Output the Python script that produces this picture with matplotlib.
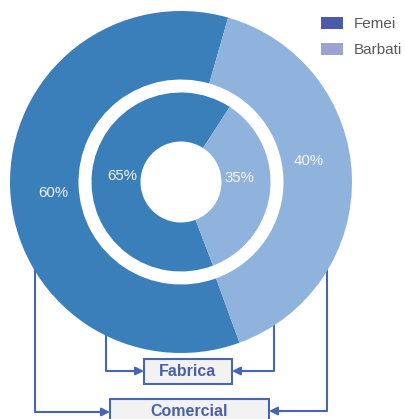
import matplotlib.pyplot as plt
from matplotlib.patches import Rectangle, Patch

plt.rcParams["font.family"] = ["Liberation Sans", "DejaVu Sans"]

# data
groups = ["Femei", "Barbati"]
comercial_pct = [60, 40]   # outer ring
fabrica_pct = [65, 35]     # inner ring
box_labels = ["Fabrica", "Comercial"]

DARK = "#3a7fba"
LIGHT = "#8fb3dc"
LEGEND_COLORS = ["#4b5ba8", "#9aa3d2"]
LINE = "#4766ae"
TEXT_BLUE = "#4a60a8"

W, H = 406, 419
fig = plt.figure(figsize=(W / 100, H / 100), dpi=100)
ax = fig.add_axes([0, 0, 1, 1])


def fy(y):
    # image pixel row -> data y
    return H - y


cx, cy = 181, fy(182)

_, _, outer_txt = ax.pie(
    comercial_pct, colors=[DARK, LIGHT], startangle=74, radius=171, center=(cx, cy),
    wedgeprops=dict(width=68.5, linewidth=0), autopct=lambda p: f"{p:.0f}%",
    pctdistance=0.75, textprops=dict(color="#f4f4f4", fontsize=10.8), frame=True,
)
_, _, inner_txt = ax.pie(
    fabrica_pct, colors=[DARK, LIGHT], startangle=57, radius=89.5, center=(cx, cy),
    wedgeprops=dict(width=49, linewidth=0), autopct=lambda p: f"{p:.0f}%",
    pctdistance=0.66, textprops=dict(color="#f4f4f4", fontsize=10.8), frame=True,
)
# nudge labels the way the original slide has them
for t, dy in zip(list(outer_txt) + list(inner_txt), [-7, 17, 0, 10]):
    x, y = t.get_position()
    t.set_position((x, y + dy))

# connector lines (drawn behind the rings)
lw = 1.5
ax.plot([106, 106, 140], [fy(320), fy(371), fy(371)], color=LINE, lw=lw, zorder=0)
ax.plot([274, 274, 236], [fy(320), fy(371), fy(371)], color=LINE, lw=lw, zorder=0)
ax.plot([35, 35, 106], [fy(240), fy(412), fy(412)], color=LINE, lw=lw, zorder=0)
ax.plot([327, 327, 273], [fy(260), fy(411), fy(411)], color=LINE, lw=lw, zorder=0)
arrow = dict(arrowstyle="-|>", color=LINE, lw=lw, mutation_scale=12, shrinkA=0, shrinkB=0)
for x0, x1, y in [(130, 144, 371), (246, 232, 371), (96, 110, 412), (283, 269, 411)]:
    ax.annotate("", xy=(x1, fy(y)), xytext=(x0, fy(y)), arrowprops=arrow)

# boxes
for label, (x0, x1, y0, y1, ty) in zip(box_labels, [(144, 232, 359, 384, 372), (110, 269, 399, 430, 412)]):
    ax.add_patch(Rectangle((x0, fy(y1)), x1 - x0, y1 - y0, facecolor="#f2f2f2",
                           edgecolor=LINE, lw=lw, zorder=3))
    ax.text((x0 + x1) / 2, fy(ty), label, ha="center", va="center", color=TEXT_BLUE,
            fontsize=11.5, fontweight="bold", zorder=4)

handles = [Patch(facecolor=c, edgecolor="none") for c in LEGEND_COLORS]
ax.legend(handles, groups, loc="upper left", bbox_to_anchor=(316, fy(12)),
          bbox_transform=ax.transData, frameon=False, fontsize=11,
          handlelength=1.45, handleheight=0.9, handletextpad=0.75, labelspacing=0.75,
          labelcolor="#595959", borderaxespad=0, borderpad=0.3)

ax.set_xlim(0, W)
ax.set_ylim(0, H)
ax.set_aspect("equal")
ax.axis("off")

fig.savefig("out.png", dpi=100)
